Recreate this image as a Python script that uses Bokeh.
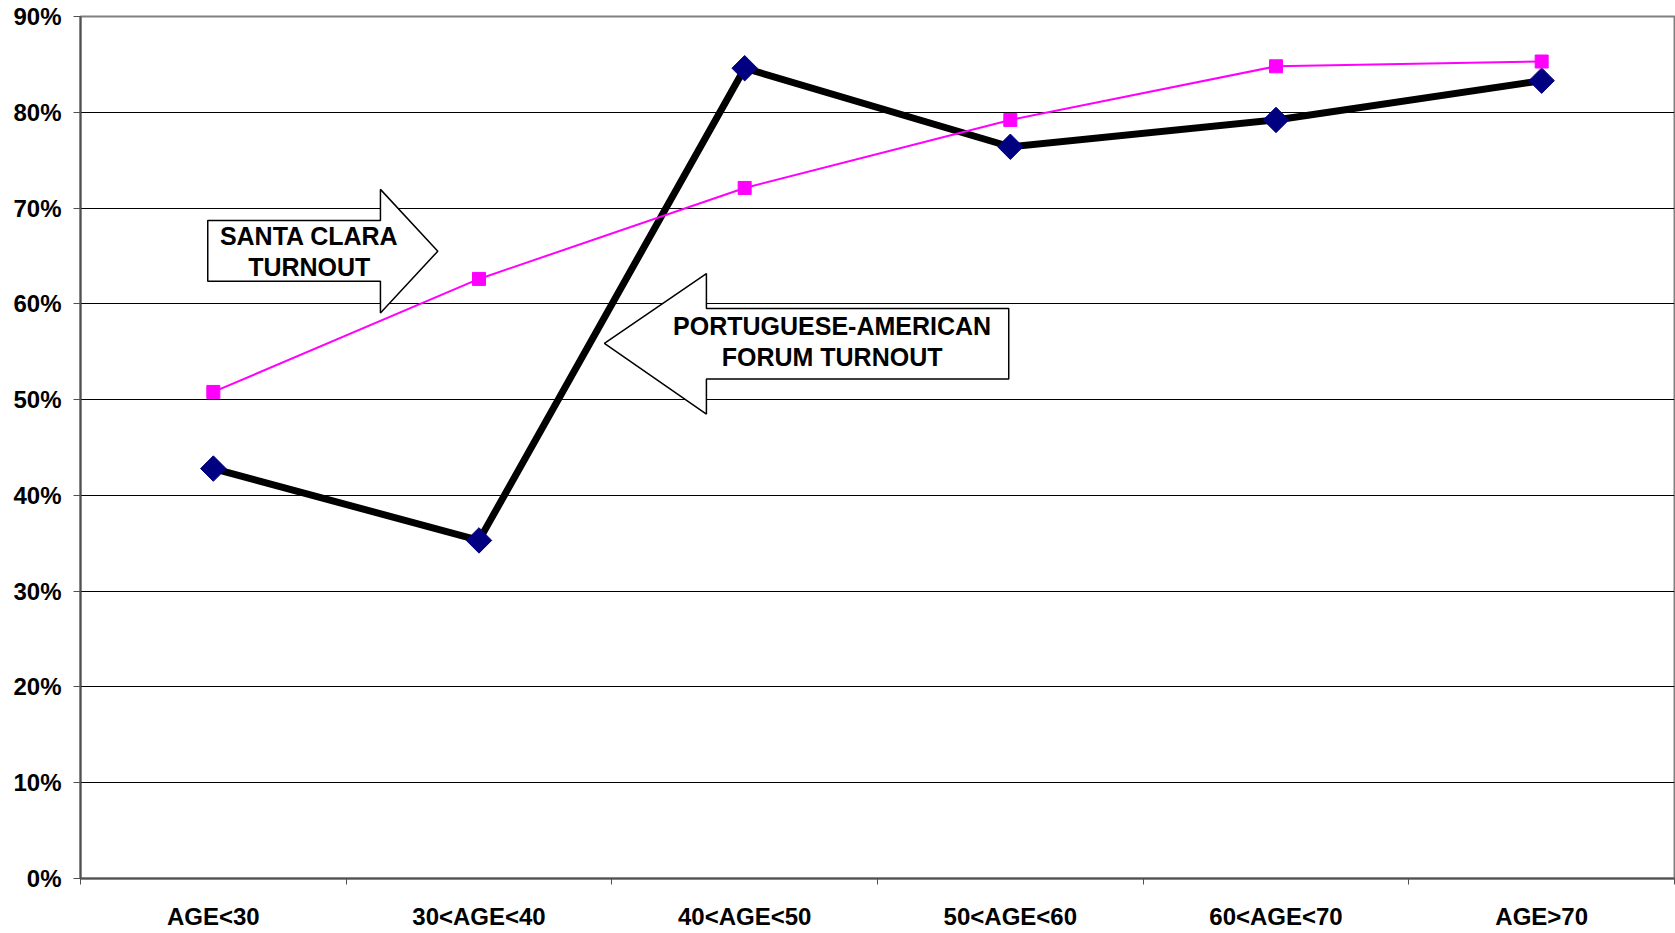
import math
from bokeh.plotting import figure
from bokeh.models import Range1d, FixedTicker, Label, PrintfTickFormatter
from bokeh.embed import file_html
from bokeh.resources import INLINE

categories = ["AGE<30", "30<AGE<40", "40<AGE<50", "50<AGE<60", "60<AGE<70", "AGE>70"]
santa_clara = [50.8, 62.6, 72.1, 79.2, 84.8, 85.3]
portuguese_american = [42.8, 35.3, 84.6, 76.4, 79.2, 83.3]
y_ticks = [0, 10, 20, 30, 40, 50, 60, 70, 80, 90]

x = list(range(len(categories)))
FONT = "Liberation Sans"

p = figure(width=1675, height=932, output_backend="svg", toolbar_location=None,
           x_range=Range1d(-0.5, len(categories) - 0.5), y_range=Range1d(0, 90),
           min_border_left=80, min_border_top=16, min_border_right=1, min_border_bottom=0)
p.background_fill_color = "white"
p.border_fill_color = "white"
p.outline_line_color = "#808080"
p.outline_line_width = 2

# grid
p.xgrid.visible = False
p.ygrid.ticker = FixedTicker(ticks=y_ticks)
p.ygrid.grid_line_color = "black"
p.ygrid.grid_line_width = 1

# x axis: labels at centres, ticks at category boundaries
xa = p.xaxis[0]
xa.ticker = FixedTicker(ticks=x, minor_ticks=[i - 0.5 for i in range(len(categories) + 1)])
xa.major_label_overrides = {i: c for i, c in enumerate(categories)}
xa.major_tick_out = 0
xa.major_tick_in = 0
xa.minor_tick_out = 6
xa.minor_tick_in = 0
xa.minor_tick_line_color = "#505050"
xa.minor_tick_line_width = 1
xa.axis_line_color = "#505050"
xa.axis_line_width = 2
xa.major_label_standoff = 18
xa.major_label_text_font = FONT
xa.major_label_text_font_style = "bold"
xa.major_label_text_font_size = "24px"
xa.major_label_text_color = "black"

# y axis
ya = p.yaxis[0]
ya.ticker = FixedTicker(ticks=y_ticks)
ya.formatter = PrintfTickFormatter(format="%d%%")
ya.major_tick_out = 7
ya.major_tick_in = 0
ya.minor_tick_out = 0
ya.minor_tick_in = 0
ya.major_tick_line_color = "#505050"
ya.axis_line_color = "#505050"
ya.axis_line_width = 2
ya.major_label_standoff = 12
ya.major_label_text_font = FONT
ya.major_label_text_font_style = "bold"
ya.major_label_text_font_size = "24px"
ya.major_label_text_color = "black"

# series
p.line(x, portuguese_american, line_color="black", line_width=7)
p.scatter(x, portuguese_american, marker="square", angle=math.pi / 4, size=18,
          fill_color="#000080", line_color="#000080")
p.line(x, santa_clara, line_color="#FF00FF", line_width=2)
p.scatter(x, santa_clara, marker="square", size=13,
          fill_color="#FF00FF", line_color="#FF00FF")

# callout arrows
p.patch([-0.021, 0.629, 0.629, 0.845, 0.629, 0.629, -0.021],
        [68.7, 68.7, 71.95, 65.5, 59.05, 62.36, 62.36],
        fill_color="white", line_color="black", line_width=1.5)
p.patch([2.994, 1.856, 1.856, 1.472, 1.856, 1.856, 2.994],
        [59.51, 59.51, 63.16, 55.86, 48.49, 52.14, 52.14],
        fill_color="white", line_color="black", line_width=1.5)

for tx, ty, tt in [(0.361, 67.05, "SANTA CLARA"), (0.361, 63.8, "TURNOUT"),
                   (2.329, 57.7, "PORTUGUESE-AMERICAN"), (2.329, 54.4, "FORUM TURNOUT")]:
    p.add_layout(Label(x=tx, y=ty, text=tt, text_align="center", text_baseline="middle",
                       text_font=FONT, text_font_style="bold", text_font_size="25px",
                       text_color="black"))

open("out.html", "w").write(file_html(p, INLINE))
